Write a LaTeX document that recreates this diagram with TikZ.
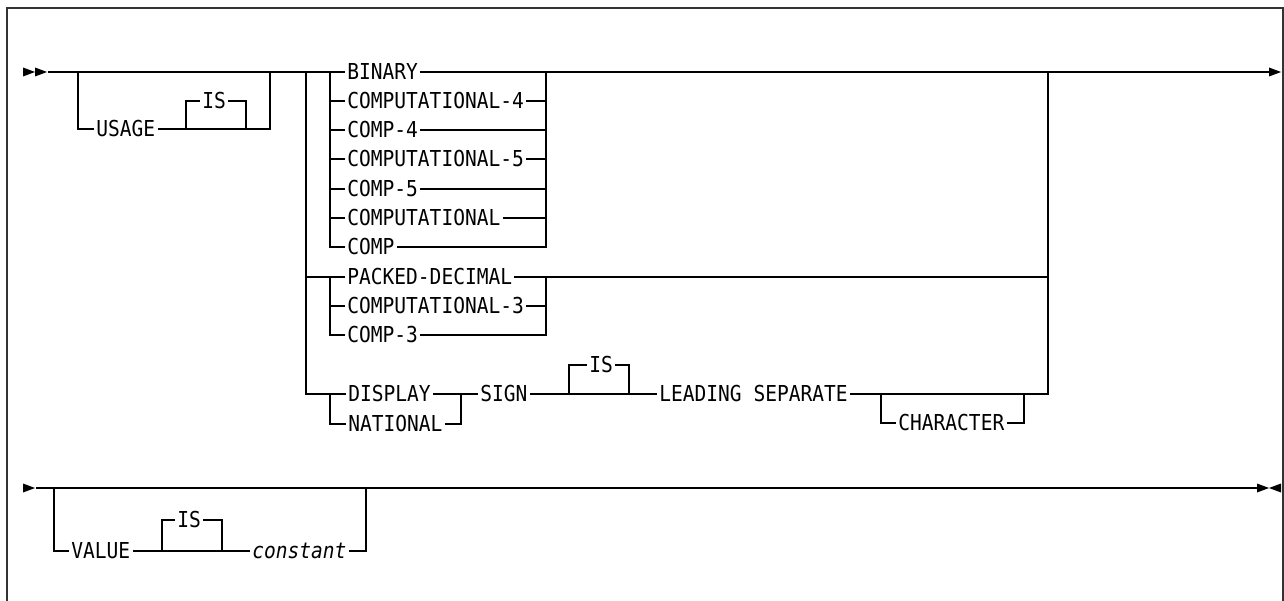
\documentclass[tikz,border=0pt]{standalone}
\usepackage{fontspec}
\newfontfamily\railfont[FakeStretch=0.89]{DejaVu Sans Mono}
\usetikzlibrary{calc}

\begin{document}
\begin{tikzpicture}[
  x=0.02cm, y=-0.02cm, line width=0.7pt,
  kw/.style    = {anchor=west, inner xsep=1pt, inner ysep=0pt,
                  text height=9.1pt, text depth=0pt,
                  font={\railfont\fontsize{12.5}{14}\selectfont}},
  var/.style   = {kw, font={\railfont\itshape\fontsize{12.5}{14}\selectfont}},
  frame/.style = {line width=1.2pt, black!80},
]
\useasboundingbox (0,0) rectangle (1284,601);
\draw[frame] (7,615) -- (7,8) -- (1283,8) -- (1283,615);

% keywords
\node[kw] (usage)     at (94,129)  {USAGE};
\node[kw] (is1)       at (200,101) {IS};
\node[kw] (binary)    at (345,72)  {BINARY};
\node[kw] (cmp4)      at (345,101) {COMPUTATIONAL-4};
\node[kw] (cp4)       at (345,130) {COMP-4};
\node[kw] (cmp5)      at (345,159) {COMPUTATIONAL-5};
\node[kw] (cp5)       at (345,189) {COMP-5};
\node[kw] (cmp)       at (345,218) {COMPUTATIONAL};
\node[kw] (cp)        at (345,247) {COMP};
\node[kw] (packed)    at (345,277) {PACKED-DECIMAL};
\node[kw] (cmp3)      at (345,306) {COMPUTATIONAL-3};
\node[kw] (cp3)       at (345,335) {COMP-3};
\node[kw] (display)   at (346,394) {DISPLAY};
\node[kw] (national)  at (346,424) {NATIONAL};
\node[kw] (sign)      at (478,394) {SIGN};
\node[kw] (is2)       at (587,365) {IS};
\node[kw] (lead)      at (657,394) {LEADING SEPARATE};
\node[kw] (character) at (896,423) {CHARACTER};
\node[kw] (value)     at (69,551)  {VALUE};
\node[kw] (is3)       at (175,520) {IS};
\node[var] (constant) at (250,551) {constant};

% rail corners
\coordinate (in1) at (48,72);    \coordinate (out1) at (1270,72);
\coordinate (ua)  at (78,72);    \coordinate (ub)   at (270,72);
\coordinate (isa) at (186,129);  \coordinate (isb)  at (246,129);
\coordinate (ol)  at (306,72);   \coordinate (or)   at (1048,72);
\coordinate (g1l) at (330,72);   \coordinate (g1r)  at (546,72);
\coordinate (g2l) at (330,277);  \coordinate (g2r)  at (546,277);
\coordinate (g3l) at (330,394);  \coordinate (g3r)  at (461,394);
\coordinate (isc) at (569,394);  \coordinate (isd)  at (629,394);
\coordinate (cha) at (881,394);  \coordinate (chb)  at (1024,394);
\coordinate (in2) at (36,488);   \coordinate (out2) at (1257,488);
\coordinate (va)  at (54,488);   \coordinate (vb)   at (366,488);
\coordinate (ise) at (162,551);  \coordinate (isf)  at (222,551);

% end marks
\fill (23,67.5) -- (35,72) -- (23,76.5) -- cycle;
\fill (35,67.5) -- (47,72) -- (35,76.5) -- cycle;
\fill (1269,67.5) -- (1281,72) -- (1269,76.5) -- cycle;
\fill (23,483.5) -- (35,488) -- (23,492.5) -- cycle;
\fill (1257,483.5) -- (1269,488) -- (1257,492.5) -- cycle;
\fill (1281,483.5) -- (1269,488) -- (1281,492.5) -- cycle;

% first line
\draw (in1) -- (binary.west);
\draw (binary.east) -- (out1);
\draw (ua) |- (usage.west);
\draw (usage.east) -| (ub);
\draw (isa) |- (is1.west);
\draw (is1.east) -| (isb);

% outer choice
\draw (ol) |- (display.west);
\draw (packed.west -| ol) -- (packed.west);
\draw (packed.east) -- (packed.east -| or);
\draw (lead.east) -| (or);

% binary group
\draw (g1l) |- (cp.west);
\draw (cp.east) -| (g1r);
\draw (cmp4.west -| g1l) -- (cmp4.west);  \draw (cmp4.east) -- (cmp4.east -| g1r);
\draw (cp4.west -| g1l)  -- (cp4.west);   \draw (cp4.east)  -- (cp4.east -| g1r);
\draw (cmp5.west -| g1l) -- (cmp5.west);  \draw (cmp5.east) -- (cmp5.east -| g1r);
\draw (cp5.west -| g1l)  -- (cp5.west);   \draw (cp5.east)  -- (cp5.east -| g1r);
\draw (cmp.west -| g1l)  -- (cmp.west);   \draw (cmp.east)  -- (cmp.east -| g1r);

% packed group
\draw (g2l) |- (cp3.west);
\draw (cp3.east) -| (g2r);
\draw (cmp3.west -| g2l) -- (cmp3.west);  \draw (cmp3.east) -- (cmp3.east -| g2r);

% display group
\draw (g3l) |- (national.west);
\draw (national.east) -| (g3r);
\draw (display.east) -- (sign.west);
\draw (sign.east) -- (lead.west);
\draw (isc) |- (is2.west);
\draw (is2.east) -| (isd);
\draw (cha) |- (character.west);
\draw (character.east) -| (chb);

% second line
\draw (in2) -- (out2);
\draw (va) |- (value.west);
\draw (value.east) -- (constant.west);
\draw (constant.east) -| (vb);
\draw (ise) |- (is3.west);
\draw (is3.east) -| (isf);

\end{tikzpicture}
\end{document}
